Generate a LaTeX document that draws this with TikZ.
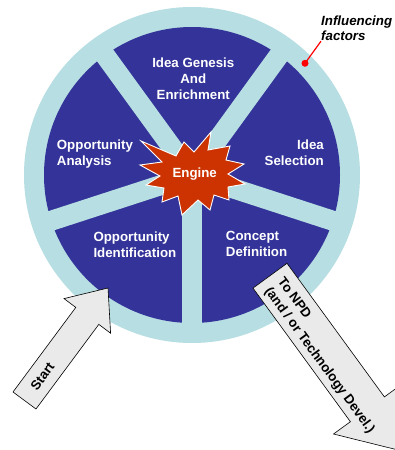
\documentclass[tikz,border=0pt]{standalone}
\usepackage{fontspec}
\setmainfont{Liberation Sans}
\definecolor{ring}{HTML}{B7DEE2}
\definecolor{sector}{HTML}{333399}
\definecolor{burst}{HTML}{CC3300}
\definecolor{arrowfill}{HTML}{EAEAEA}
\definecolor{pointer}{HTML}{FF0000}
\begin{document}
\begin{tikzpicture}[x=1pt,y=-1pt,
  lbl/.style={font=\bfseries\fontsize{13.3}{16}\selectfont, text=white, inner sep=0pt},
  arrowtext/.style={font=\bfseries\fontsize{13.3}{16}\selectfont, text=black, inner sep=0pt},
  blockarrow/.style={fill=arrowfill, draw=black, line width=0.6pt, line join=miter},
  spoke/.style={draw=ring, line width=20pt},
  burststyle/.style={fill=burst, draw=white, line width=0.9pt, line join=miter}]
\useasboundingbox (0,0) rectangle (395,450);
\clip (0,0) rectangle (395,450);
% wheel
\coordinate (c) at (192,175);
\fill[ring] (c) circle[radius=168pt];
\fill[sector] (c) circle[radius=148pt];
\foreach \a in {90,18,-54,-126,162} \draw[spoke] (c) -- ++(\a:150);
% engine starburst
\draw[burststyle] (141,141) -- (176,156) -- (184,142) -- (194,152) -- (211,132) -- (208,150)
  -- (230,146) -- (226,160) -- (244,164) -- (228,174) -- (245,184) -- (228,187)
  -- (229,200) -- (214,195) -- (210,210) -- (198,200) -- (182,215) -- (178,196)
  -- (162,202) -- (164,188) -- (146,185) -- (160,176) -- (140,165) -- (162,162) -- cycle;
\node[lbl] (engine) at (194.7,174.2) {Engine};
% sector labels
\node[lbl, anchor=north, align=center] (genesis) at (193.3,57.6) {Idea Genesis\\And\\Enrichment};
\node[lbl, anchor=north west, align=left] (analysis) at (56.7,139.3) {Opportunity\\Analysis};
\node[lbl, anchor=north east, align=right] (selection) at (324,139.3) {Idea\\Selection};
\node[lbl, anchor=north west, align=left] (identification) at (93.3,231.6) {Opportunity\\Identification};
\node[lbl, anchor=north west, align=left] (concept) at (225.7,231.3) {Concept\\Definition};
% influencing factors
\node[font=\bfseries\itshape\fontsize{13.3}{15.7}\selectfont, anchor=north west, align=left, inner sep=0pt] (infl) at (321,15.3) {Influencing\\factors};
\coordinate (dot) at (305,63.3);
\draw[pointer, line width=1.2pt] (dot) -- (infl.south west);
\fill[pointer] (dot) circle[radius=3.5pt];
% start arrow
\draw[blockarrow] (13,392) -- (36,409) -- (98.8,324.4) -- (110.6,333.2) -- (108,288)
  -- (64,298.6) -- (75.8,307.4) -- cycle;
\node[arrowtext, rotate=53.4] (start) at (42.4,376.4) {Start};
% NPD arrow
\draw[blockarrow] (287,263.3) -- (384.4,396.9) -- (401.3,384.6) -- (396.9,449.7)
  -- (333.5,434.0) -- (350.4,421.7) -- (253,288.1) -- cycle;
\node[arrowtext, rotate=-53.9, anchor=west, align=left] (npd) at (273.4,284.3) {To NPD\\(and / or Technology Devel.)};
\end{tikzpicture}
\end{document}
